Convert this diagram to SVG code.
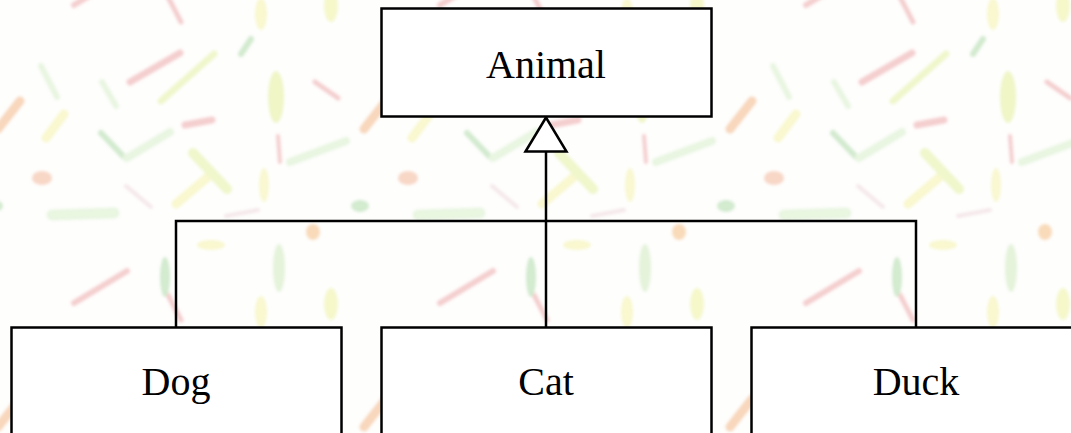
<svg xmlns="http://www.w3.org/2000/svg" width="1071" height="433" viewBox="0 0 1071 433">
  <defs>
    <style>
      .box { fill: #ffffff; stroke: #000000; stroke-width: 2.5; }
      .label { font-family: "Liberation Serif", "Times New Roman", serif; font-size: 40px; fill: #000000; text-anchor: middle; }
      .wire { fill: none; stroke: #000000; stroke-width: 2.5; }
      .s { fill: none; stroke-linecap: round; }
      .red { stroke: #eca0a0; }
      .org { stroke: #f2b07c; }
      .yel { stroke: #f5f2a0; }
      .ygr { stroke: #e2f09a; }
      .grn { stroke: #a8d8a0; }
      .fgr { stroke: #d4eec4; }
      .fred { stroke: #ecd0d6; }
    </style>
    <filter id="soft" x="-10%" y="-10%" width="120%" height="120%">
      <feGaussianBlur stdDeviation="1.4"/>
    </filter>
    <!-- confetti brush-stroke wallpaper tile -->
    <pattern id="confetti" patternUnits="userSpaceOnUse" x="0" y="0" width="366" height="298">
      <rect width="366" height="298" fill="#fefefd"/>
      <g filter="url(#soft)" opacity="0.5">
        <!-- reds -->
        <line class="s red" x1="168" y1="-3" x2="181" y2="22" stroke-width="5"/>
        <line class="s red" x1="168" y1="295" x2="181" y2="320" stroke-width="5"/>
        <line class="s red" x1="130" y1="82" x2="180" y2="53" stroke-width="7"/>
        <line class="s red" x1="315" y1="82" x2="338" y2="98" stroke-width="5"/>
        <line class="s red" x1="185" y1="125" x2="212" y2="120" stroke-width="7"/>
        <line class="s red" x1="278" y1="136" x2="280" y2="162" stroke-width="4"/>
        <line class="s red" x1="74" y1="303" x2="127" y2="271" stroke-width="6"/>
        <line class="s red" x1="74" y1="5" x2="127" y2="-27" stroke-width="6"/>
        <line class="s fred" x1="226" y1="216" x2="258" y2="210" stroke-width="4"/>
        <line class="s fred" x1="126" y1="186" x2="151" y2="207" stroke-width="4"/>
        <!-- oranges -->
        <line class="s org" x1="-2" y1="129" x2="20" y2="101" stroke-width="9"/>
        <line class="s org" x1="364" y1="129" x2="386" y2="101" stroke-width="9"/>
        <ellipse cx="42" cy="178" rx="10" ry="7" fill="#f2b090"/>
        <ellipse cx="313" cy="232" rx="7" ry="8" fill="#f4b878"/>
        <!-- yellows -->
        <ellipse cx="261" cy="14" rx="6" ry="16" fill="#f5f2a0"/>
        <ellipse cx="261" cy="312" rx="6" ry="16" fill="#f5f2a0"/>
        <ellipse cx="331" cy="6" rx="7" ry="16" fill="#eef298"/>
        <ellipse cx="331" cy="304" rx="7" ry="16" fill="#eef298"/>
        <line class="s yel" x1="46" y1="138" x2="64" y2="114" stroke-width="9"/>
        <line class="s yel" x1="176" y1="204" x2="209" y2="176" stroke-width="9"/>
        <ellipse cx="264" cy="185" rx="5" ry="17" fill="#f4f2a4"/>
        <ellipse cx="211" cy="245" rx="14" ry="5" fill="#f5f2a0"/>
        <!-- yellow-greens -->
        <line class="s ygr" x1="161" y1="101" x2="214" y2="54" stroke-width="7"/>
        <ellipse cx="276" cy="97" rx="8" ry="26" fill="#e2ee90"/>
        <line class="s ygr" x1="193" y1="153" x2="227" y2="189" stroke-width="10"/>
        <!-- greens -->
        <line class="s grn" x1="241" y1="54" x2="251" y2="39" stroke-width="6"/>
        <line class="s grn" x1="101" y1="133" x2="124" y2="157" stroke-width="6"/>
        <line class="s fgr" x1="127" y1="158" x2="170" y2="132" stroke-width="8"/>
        <line class="s fgr" x1="290" y1="162" x2="346" y2="141" stroke-width="8"/>
        <line class="s fgr" x1="41" y1="66" x2="57" y2="97" stroke-width="6"/>
        <line class="s fgr" x1="102" y1="82" x2="116" y2="106" stroke-width="6"/>
        <line class="s fgr" x1="52" y1="215" x2="114" y2="213" stroke-width="11"/>
        <ellipse cx="360" cy="206" rx="9" ry="6" fill="#a8d8a0"/>
        <ellipse cx="-6" cy="206" rx="9" ry="6" fill="#a8d8a0"/>
        <ellipse cx="165" cy="277" rx="5" ry="20" fill="#a8d8a0"/>
        <ellipse cx="279" cy="268" rx="6" ry="24" fill="#cce8b8"/>
      </g>
    </pattern>
    <!-- hollow triangle for generalization -->
    <marker id="inherit" markerUnits="userSpaceOnUse" viewBox="-2 -2 38 46" markerWidth="38" markerHeight="46" refX="34" refY="20.5" orient="auto" overflow="visible">
      <path d="M0,0 L34,20.5 L0,41 Z" fill="#ffffff" stroke="#000000" stroke-width="2.5" stroke-linejoin="miter"/>
    </marker>
  </defs>

  <rect width="1071" height="433" fill="url(#confetti)"/>

  <g id="connectors">
    <path class="wire" d="M176,327 V221 H916 V327"/>
    <path class="wire" d="M546,327 V117.5" marker-end="url(#inherit)"/>
  </g>

  <g id="animal">
    <rect class="box" x="381.5" y="8.5" width="330" height="108"/>
    <text class="label" x="546" y="78">Animal</text>
  </g>
  <g id="dog">
    <rect class="box" x="11.5" y="327.5" width="330" height="108"/>
    <text class="label" x="176" y="395">Dog</text>
  </g>
  <g id="cat">
    <rect class="box" x="381.5" y="327.5" width="330" height="108"/>
    <text class="label" x="546" y="395">Cat</text>
  </g>
  <g id="duck">
    <rect class="box" x="751.5" y="327.5" width="330" height="108"/>
    <text class="label" x="916" y="395">Duck</text>
  </g>
</svg>
